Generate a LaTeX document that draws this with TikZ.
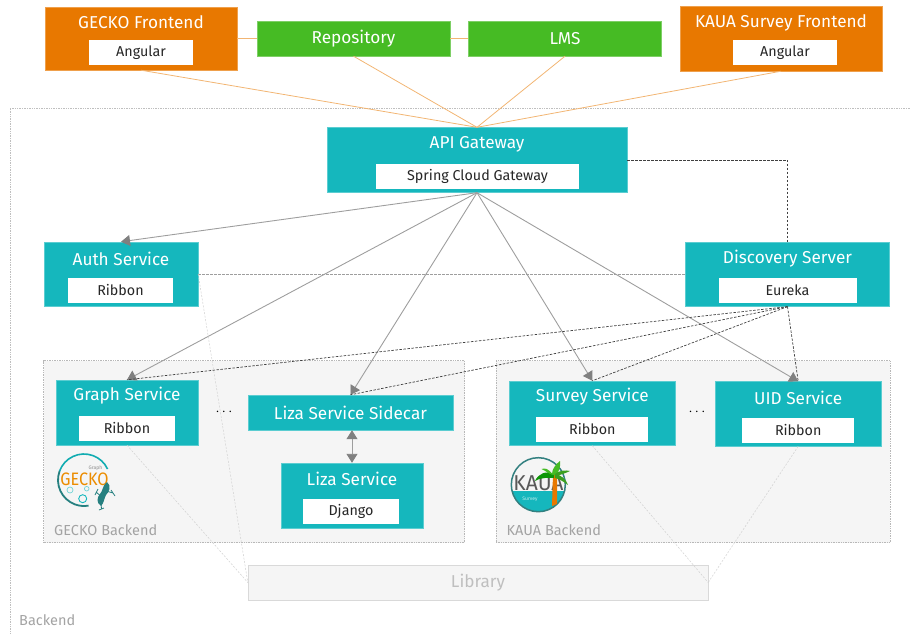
\documentclass[tikz,border=0pt]{standalone}
\usepackage{fontspec}
\setmainfont{Fira Sans}
\usetikzlibrary{arrows.meta}
\definecolor{frontorange}{HTML}{E87800}
\definecolor{extgreen}{HTML}{46BB24}
\definecolor{svcteal}{HTML}{15B7BD}
\definecolor{grouppale}{HTML}{F5F5F5}
\tikzset{
	frontbox/.style={fill=frontorange,draw=frontorange!70!white,line width=0.4pt},
	extbox/.style={fill=extgreen,draw=extgreen!70!white,line width=0.4pt},
	svcbox/.style={fill=svcteal,draw=svcteal!70!white,line width=0.4pt},
	bigtext/.style={text=white,font=\fontsize{17.2}{20}\selectfont},
	groupbox/.style={fill=grouppale,draw=black!28,densely dotted,line width=0.7pt},
	titletext/.style={bigtext,inner sep=0pt},
	innerbox/.style={fill=white,text=black!85,font=\fontsize{14.3}{16}\selectfont,minimum height=25pt,inner sep=0pt},
	grouplabel/.style={text=black!36,font=\fontsize{14.5}{16}\selectfont,anchor=west,inner sep=0pt},
	dotstext/.style={font=\bfseries\fontsize{15.5}{16}\selectfont},
	frontline/.style={draw=frontorange!55!white,line width=0.8pt},
	callline/.style={draw=black!38,line width=0.9pt,-{Triangle[length=9pt,width=11pt,color=black!50]}},
	regline/.style={draw=black!75,dash pattern=on 2.5pt off 1.5pt,line width=0.7pt},
	libline/.style={draw=black!18,dash pattern=on 2pt off 1.5pt,line width=0.5pt}
}
\begin{document}
\begin{tikzpicture}[x=1pt,y=-1pt]
	\useasboundingbox (0,0) rectangle (910,634);
	% backend area and the two groups
	\draw[draw=black!25,densely dotted,line width=0.7pt] (910,108) -- (10,108) -- (10,634);
	\node[grouplabel] (backendlabel) at (19,620) {Backend};
	\node[groupbox,minimum width=421pt,minimum height=182pt] (geckogroup) at (254,451.5) {};
	\node[groupbox,minimum width=394pt,minimum height=182pt] (kauagroup) at (693,451.5) {};
	\node[grouplabel] (geckolabel) at (54,530.5) {GECKO Backend};
	\node[grouplabel] (kaualabel) at (506.5,530.5) {KAUA Backend};
	\node[draw=black!15,fill=grouppale,minimum width=460pt,minimum height=35pt,text=black!25,font=\fontsize{17.2}{20}\selectfont] (library) at (478,582.5) {Library};

	% frontends and external systems
	\node[frontbox,minimum width=192pt,minimum height=63pt] (gecko) at (141,38.5) {};
	\node[titletext] (geckotitle) at (141,22.5) {GECKO Frontend};
	\node[innerbox,minimum width=104pt] (geckoang) at (141,53) {Angular};
	\node[extbox,bigtext,minimum width=193pt,minimum height=35pt] (repo) at (353.5,38.5) {Repository};
	\node[extbox,bigtext,minimum width=193pt,minimum height=35pt] (lms) at (565,38.5) {LMS};
	\node[frontbox,minimum width=202pt,minimum height=65pt] (kaua) at (781,38.5) {};
	\node[titletext] (kauatitle) at (781,22.5) {KAUA Survey Frontend};
	\node[innerbox,minimum width=104pt] (kauaang) at (785,53) {Angular};

	% gateway and discovery
	\node[svcbox,minimum width=300pt,minimum height=65pt] (gateway) at (477,160) {};
	\node[titletext] (gatewaytitle) at (477,144.5) {API Gateway};
	\node[innerbox,minimum width=203pt] (gatewaylib) at (477.5,176.5) {Spring Cloud Gateway};
	\node[svcbox,minimum width=154pt,minimum height=64.5pt] (auth) at (121,274.2) {};
	\node[titletext] (authtitle) at (121,258.5) {Auth Service};
	\node[innerbox,minimum width=105pt] (authlib) at (120.5,290) {Ribbon};
	\node[svcbox,minimum width=204pt,minimum height=64.5pt] (discovery) at (787.5,274.2) {};
	\node[titletext] (discoverytitle) at (787.5,258.5) {Discovery Server};
	\node[innerbox,minimum width=138pt] (discoverylib) at (787.5,290) {Eureka};

	% services
	\node[svcbox,minimum width=142pt,minimum height=65pt] (graph) at (127,412.5) {};
	\node[titletext] (graphtitle) at (127,396) {Graph Service};
	\node[innerbox,minimum width=96pt] (graphlib) at (127,428) {Ribbon};
	\node[svcbox,bigtext,minimum width=205pt,minimum height=35pt] (sidecar) at (350.5,412.5) {Liza Service Sidecar};
	\node[svcbox,minimum width=142pt,minimum height=65pt] (liza) at (352,495.5) {};
	\node[titletext] (lizatitle) at (352,479) {Liza Service};
	\node[innerbox,minimum width=96pt] (lizalib) at (351,511) {Django};
	\node[svcbox,minimum width=166pt,minimum height=64.5pt] (survey) at (592.3,413.2) {};
	\node[titletext] (surveytitle) at (592.3,397) {Survey Service};
	\node[innerbox,minimum width=112pt] (surveylib) at (592.3,429) {Ribbon};
	\node[svcbox,minimum width=166pt,minimum height=64.5pt] (uid) at (798.2,413.8) {};
	\node[titletext] (uidtitle) at (798.2,398) {UID Service};
	\node[innerbox,minimum width=112pt] (uidlib) at (798.2,430) {Ribbon};
	\node[dotstext] (geckodots) at (224,412.5) {$\boldmath\cdots$};
	\node[dotstext] (kauadots) at (697,412.5) {$\boldmath\cdots$};

	% connectors
	\draw[frontline] (gecko.east |- repo.west) -- (repo.west);
	\draw[frontline] (repo.east) -- (lms.west);
	\foreach \front in {gecko,repo,lms,kaua}
		\draw[frontline] (\front.south) -- (gateway.north);
	\foreach \svc in {auth,graph,sidecar,survey,uid}
		\draw[callline] (gateway.south) -- (\svc.north);
	\draw[callline,{Triangle[length=9pt,width=11pt,color=black!50]}-{Triangle[length=9pt,width=11pt,color=black!50]}] (sidecar.south -| liza.north) -- (liza.north);
	\draw[regline] (gateway.east) -| (discovery.north);
	\draw[regline,draw=black!38] (auth.east) -- (discovery.west);
	\foreach \svc in {graph,sidecar,survey,uid}
		\draw[regline] (discovery.south) -- (\svc.north);
	\draw[libline] (auth.east) -- (library.west);
	\draw[libline] (graph.south) -- (library.west);
	\draw[libline] (survey.south) -- (library.east);
	\draw[libline] (uid.south) -- (library.east);

	% GECKO logo
	\draw[color=teal!70!gray,line width=1.8pt] (84,480) ++(-160:26) arc[start angle=-160,end angle=-280,radius=26];
	\draw[color=svcteal!80!teal,line width=1.6pt] (84,480) ++(-25:26) arc[start angle=-25,end angle=-160,radius=26];
	\fill[grouppale] (62,470) rectangle (108,488);
	\node[text=frontorange!85!yellow,font=\fontsize{18}{19}\selectfont,inner sep=0pt,xscale=0.9] (geckoword) at (84.5,479) {GECKO};
	\node[text=black!45,font=\fontsize{5}{6}\selectfont,inner sep=0pt] (graphword) at (95.5,468) {Graph};
	\draw[svcteal!60,line width=0.7pt] (70,490) circle (3) (86.7,488.7) circle (2.3);
	\draw[svcteal,line width=0.9pt] (82.7,498.7) circle (4);
	\fill[teal!70!gray] (107,482) .. controls (112,486) and (109,492) .. (106,495) .. controls (104,499) and (104,503) .. (101,506) .. controls (96,503) and (97,497) .. (100,494) .. controls (103,491) and (102,486) .. (107,482) -- cycle;
	\draw[teal!70!gray,line width=0.8pt] (113,493) -- (106,491) (96,492) -- (102,497) (101.5,509) -- (101,503) (111,490) -- (115,496) (98,489) -- (95,495) (99,510) -- (104,508);

	% KAUA logo
	\begin{scope}
		\clip (538.3,484.7) circle (27);
		\fill[svcteal] (510,491) rectangle (567,513);
	\end{scope}
	\draw[color=teal!60!gray,line width=1.5pt] (538.3,484.7) circle (27);
	\node[text=black!65,font=\fontsize{21.5}{22}\selectfont,inner sep=0pt,xscale=0.98] (kauaword) at (538.5,483.5) {KAUA};
	\node[text=white!75!svcteal,font=\fontsize{5}{6}\selectfont,inner sep=0pt] (surveyword) at (530,499) {Survey};
	\fill[frontorange] (553,474) -- (557,474) -- (557,504) -- (552,506) -- cycle;
	\fill[green!55!black!80!extgreen] (554,474) .. controls (546,470) and (538,474) .. (535,481) .. controls (542,477) and (548,478) .. (554,478) -- cycle;
	\fill[extgreen] (553,475) .. controls (548,468) and (545,468) .. (541.5,469) .. controls (546,471) and (549,474) .. (553,475) -- cycle;
	\fill[extgreen] (552,474) .. controls (552,469) and (556,464) .. (560,461) .. controls (561,466) and (559,471) .. (556,476) -- cycle;
	\fill[extgreen!85!black] (555,474) .. controls (560,470) and (566,470) .. (570,471) .. controls (566,473) and (560,475) .. (556,476) -- cycle;
	\fill[extgreen!85!black] (555,474) .. controls (561,475) and (566,479) .. (568,485) .. controls (563,481) and (559,479) .. (555,478) -- cycle;
\end{tikzpicture}
\end{document}
